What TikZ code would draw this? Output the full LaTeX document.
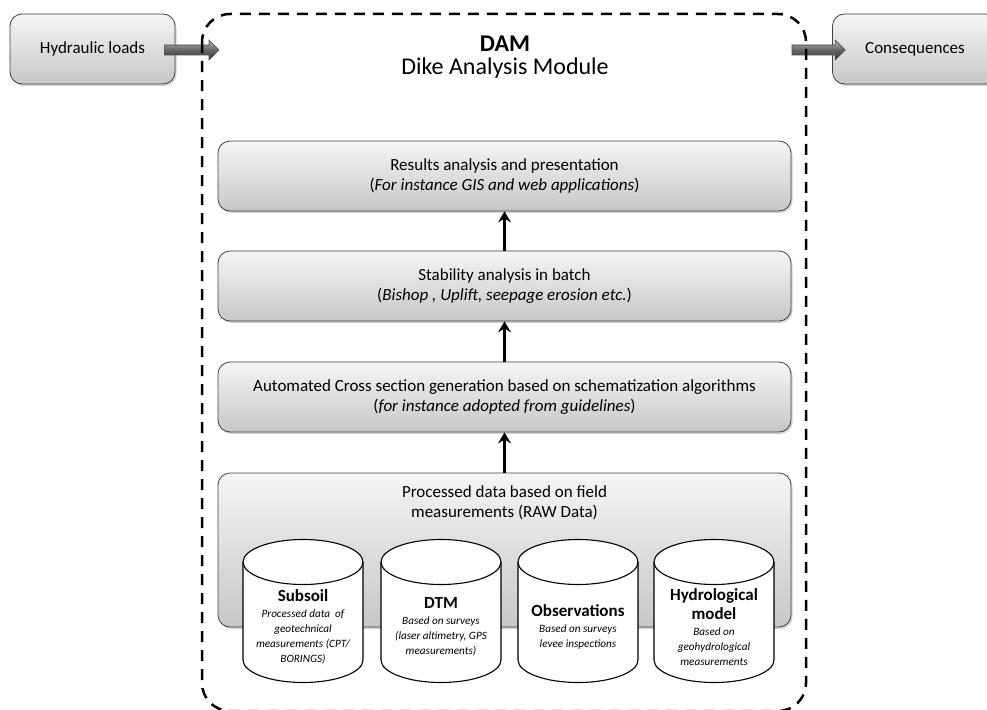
\documentclass[tikz,border=0pt]{standalone}
\usepackage{fontspec}
\setmainfont{Carlito}
\usetikzlibrary{calc,shadows,arrows.meta}
\def\blockarrow(#1)(#2){\path[blockarrow] ($(#1)+(0,5)$) -- ($(#2)+(-10,5)$) -- ($(#2)+(-10,10)$) -- (#2) -- ($(#2)+(-10,-10)$) -- ($(#2)+(-10,-5)$) -- ($(#1)+(0,-5)$) -- cycle;}
\def\cyltitle#1{{\fontsize{17}{19}\selectfont\upshape\bfseries #1}}

\begin{document}
\begin{tikzpicture}[x=1pt, y=1pt,
    box/.style={draw=black!75, line width=0.8pt, rounded corners=12pt,
      top color=black!4, bottom color=black!22,
      drop shadow={shadow xshift=1.5pt, shadow yshift=-2pt, opacity=0.35},
      align=center, font=\fontsize{17}{20}\selectfont},
    sidebox/.style={box, minimum width=165pt, minimum height=70pt},
    stagebox/.style={box, minimum width=573pt, minimum height=70pt},
    blockarrow/.style={draw=black!70, line width=0.6pt, top color=black!30, bottom color=black!80, middle color=black!60},
    uparrow/.style={line width=2.5pt, -{Stealth[length=11pt, width=13pt, inset=4pt]}},
    cyl/.style={draw=black, line width=1.1pt, fill=white},
    cyltext/.style={align=center, font=\fontsize{11.2}{15}\selectfont\itshape, inner sep=0pt},
    frame/.style={line width=2.5pt, dash pattern=on 11pt off 8pt, rounded corners=28pt}]
  \useasboundingbox (0,0) rectangle (987,-709);
  %%%%% START %%%%%

  \node[sidebox] (hyd) at (92.5,-49) {Hydraulic loads};
  \node[sidebox] (cons) at (915,-49) {Consequences};

  \node[font=\fontsize{24}{28}\selectfont\bfseries] (dam) at (505,-44) {DAM};
  \node[font=\fontsize{24}{28}\selectfont] (damname) at (505,-68) {Dike Analysis Module};

  \node[stagebox] (res) at (504.5,-176) {Results analysis and presentation\\(\textit{For instance GIS and web applications})};
  \node[stagebox] (stab) at (504.5,-286) {Stability analysis in batch\\(\textit{Bishop , Uplift, seepage erosion etc.})};
  \node[stagebox] (auto) at (504.5,-397) {Automated Cross section generation based on schematization algorithms\\(\textit{for instance adopted from guidelines})};
  \node[box, minimum width=573pt, minimum height=154pt] (proc) at (504.5,-550) {};
  \node[align=center, font=\fontsize{17}{20}\selectfont] (proctext) at (504.5,-503) {Processed data based on field\\measurements (RAW Data)};

  \draw[uparrow] (proc.north) -- (auto.south);
  \draw[uparrow] (auto.north) -- (stab.south);
  \draw[uparrow] (stab.north) -- (res.south);

  % data stores
  \foreach \cx in {303,441,578,714} {
    \draw[cyl] (\cx-60,-562) -- (\cx-60,-660) arc (180:360:60 and 22.5) -- (\cx+60,-562) arc (0:180:60 and 22.5) -- cycle;
    \draw[cyl] (\cx-60,-562) arc (180:360:60 and 22.5);
  }
  \node[cyltext] (subsoil) at (303,-627) {\cyltitle{Subsoil}\\[1pt]Processed data\ \ of\\geotechnical\\measurements (CPT/\\BORINGS)};
  \node[cyltext] (dtm) at (441,-627) {\cyltitle{DTM}\\[1pt]Based on surveys\\(laser altimetry, GPS\\measurements)};
  \node[cyltext] (obs) at (578,-627) {\cyltitle{Observations}\\[1pt]Based on surveys\\levee inspections};
  \node[cyltext] (hydro) at (714,-627) {\cyltitle{Hydrological}\\[4pt]\cyltitle{model}\\[1pt]Based on\\geohydrological\\measurements};

  % in and out
  \coordinate (hydout) at ($(hyd.east)+(-11,-1)$);
  \coordinate (damin) at (219,-50);
  \coordinate (damout) at (792,-50);
  \coordinate (consin) at ($(cons.west)+(13,-1)$);
  \blockarrow(hydout)(damin)
  \blockarrow(damout)(consin)

  \draw[frame] (202,-14) rectangle (806,-711);

  %%%%% END %%%%%
\end{tikzpicture}
\end{document}
